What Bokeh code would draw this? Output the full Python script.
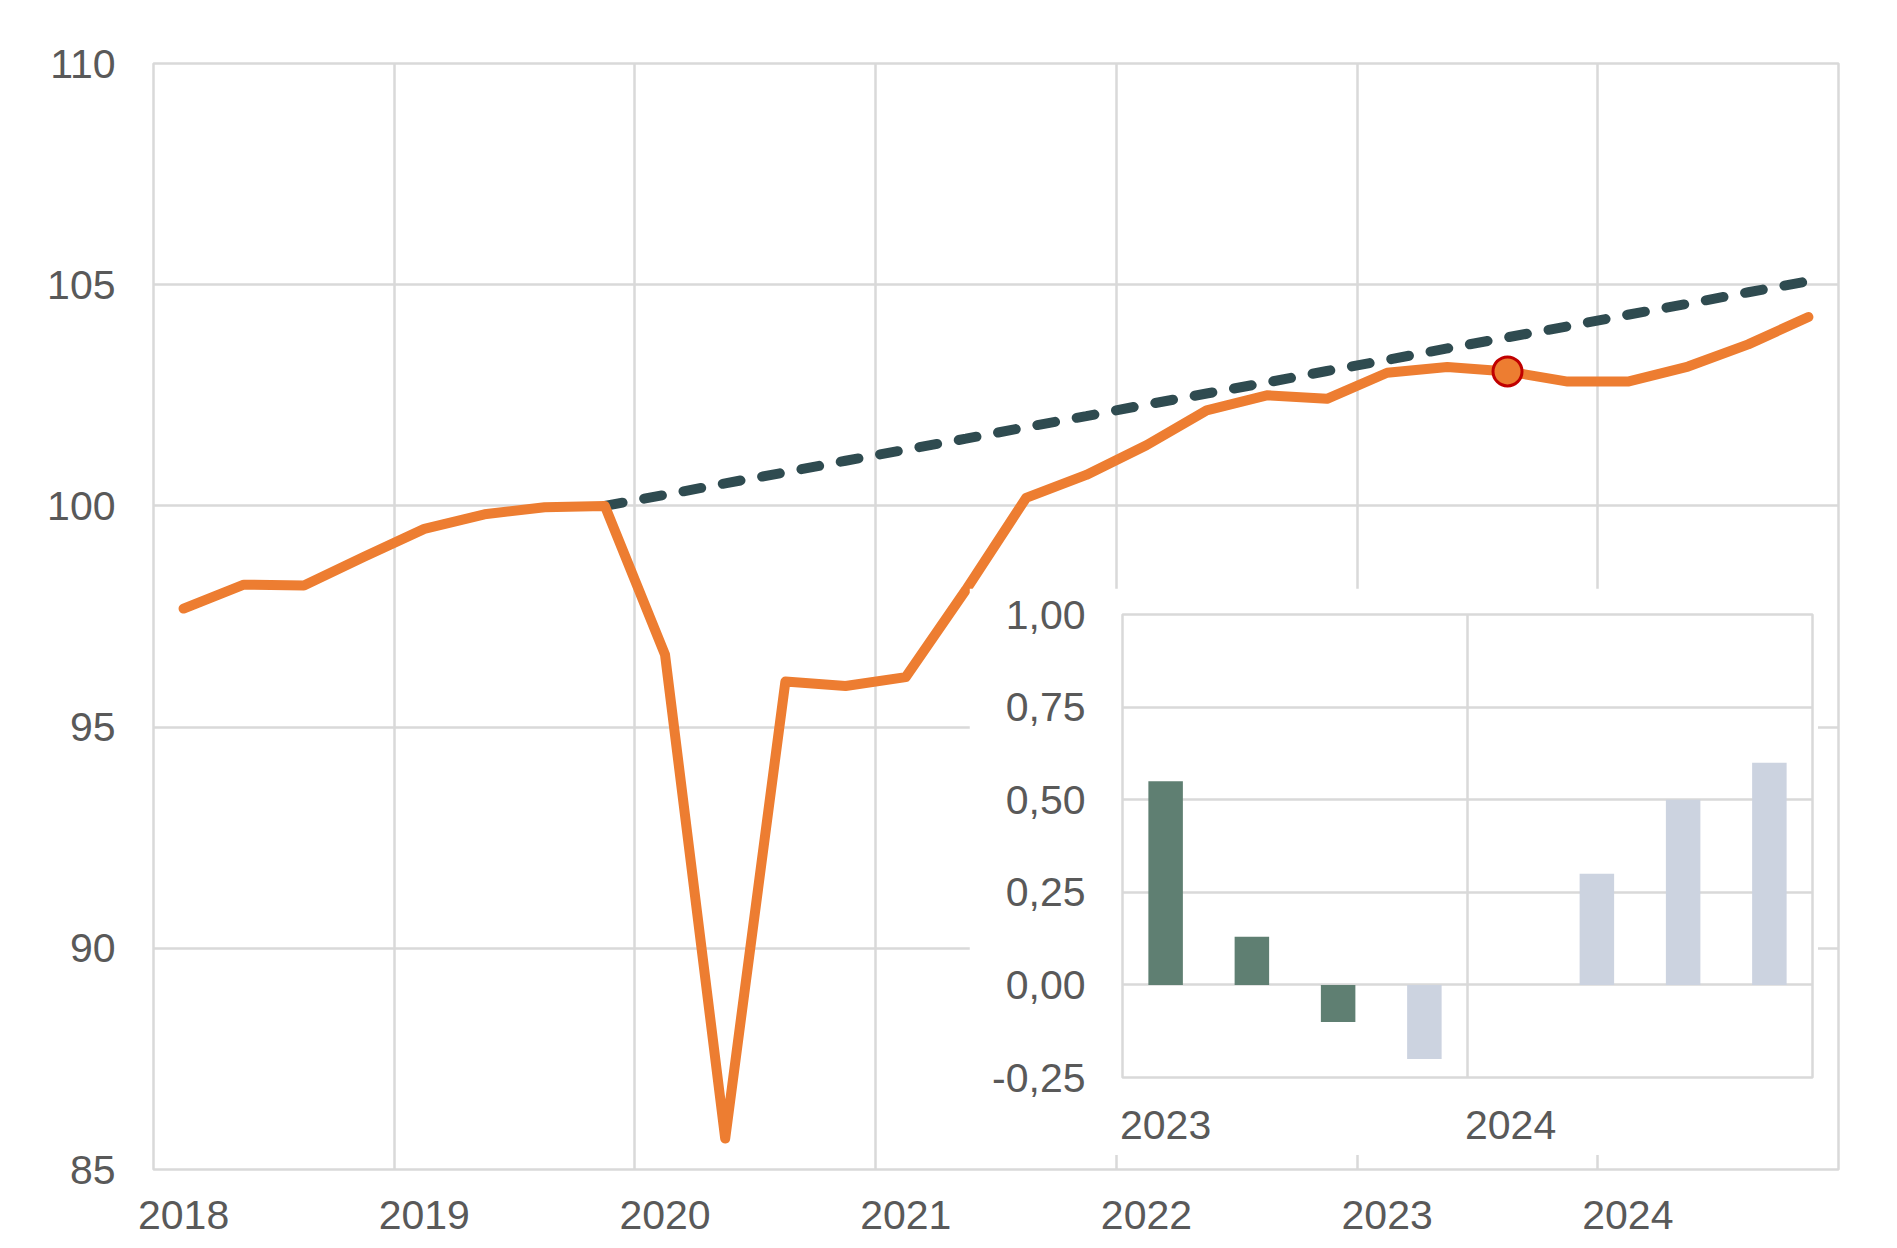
from bokeh.plotting import figure
from bokeh.models import FixedTicker, CustomJSTickFormatter, Range1d, ColumnDataSource
from bokeh.layouts import column
from bokeh.embed import file_html
from bokeh.resources import INLINE

# ---------------- data ----------------
years = [2018, 2019, 2020, 2021, 2022, 2023, 2024]
periods = [f"{y}K{q}" for y in years for q in (1, 2, 3, 4)]

gdp_index = [97.68, 98.22, 98.20, 98.85, 99.48, 99.81, 99.97, 100.00,
             96.64, 85.70, 96.03, 95.93, 96.13, 98.10, 100.18, 100.70,
             101.37, 102.16, 102.50, 102.42, 103.01, 103.14, 103.04, 102.81,
             102.81, 103.15, 103.65, 104.27]

trend_periods = periods[7:]
trend_values = [100.00, 100.25, 100.51, 100.76, 101.02, 101.27, 101.52,
                101.78, 102.03, 102.29, 102.54, 102.79, 103.05, 103.30,
                103.56, 103.81, 104.06, 104.32, 104.57, 104.83, 105.08]

highlight_period = "2023K3"

y_ticks = [85, 90, 95, 100, 105, 110]

inset_years = [2023, 2024]
inset_periods = [f"{y}K{q}" for y in inset_years for q in (1, 2, 3, 4)]
inset_values = [0.55, 0.13, -0.10, -0.20, 0.00, 0.30, 0.50, 0.60]
inset_kind = ["actual", "actual", "actual", "projection",
              "projection", "projection", "projection", "projection"]
inset_ticks = [-0.25, 0.0, 0.25, 0.50, 0.75, 1.00]

# ---------------- styles ----------------
ORANGE = "#ED7D31"
TREND = "#2F4B50"
GRID = "#D9D9D9"
TEXT = "#595959"
FONT = "Liberation Sans"
FS = "41px"
KIND_COLORS = {"actual": "#5F7F72", "projection": "#CCD3E0"}
GW = 2.5


def pos(period):
    y, q = period.split("K")
    return int(y) + (int(q) - 1) / 4 + 0.125


# ---------------- main chart ----------------
MAIN_H = 1240
p = figure(width=1888, height=MAIN_H, output_backend="svg", toolbar_location=None,
           x_range=Range1d(years[0], years[-1] + 1), y_range=Range1d(85, 110),
           min_border_left=153, min_border_right=50, min_border_top=63,
           min_border_bottom=71)
p.background_fill_color = "white"
p.border_fill_color = "white"
p.outline_line_color = GRID
p.outline_line_width = GW

src = ColumnDataSource(dict(x=[pos(s) for s in periods], y=gdp_index))
tsrc = ColumnDataSource(dict(x=[pos(s) for s in trend_periods], y=trend_values))
hi = periods.index(highlight_period)

p.line("x", "y", source=tsrc, line_color=TREND, line_width=10,
       line_dash="18 22", line_cap="round")
p.line("x", "y", source=src, line_color=ORANGE, line_width=10,
       line_join="round", line_cap="round")
p.scatter([pos(highlight_period)], [gdp_index[hi]], size=29, marker="circle",
          fill_color=ORANGE, line_color="#C00000", line_width=3)

p.xaxis.ticker = FixedTicker(ticks=[y + 0.125 for y in years])
p.xaxis.formatter = CustomJSTickFormatter(code="return Math.floor(tick).toString();")
p.xgrid.ticker = FixedTicker(ticks=years + [years[-1] + 1])
p.yaxis.ticker = FixedTicker(ticks=y_ticks)
p.ygrid.ticker = FixedTicker(ticks=y_ticks)

for ax in (p.xaxis[0], p.yaxis[0]):
    ax.axis_line_color = None
    ax.major_tick_line_color = None
    ax.minor_tick_line_color = None
    ax.major_label_text_font = FONT
    ax.major_label_text_font_size = FS
    ax.major_label_text_color = TEXT
p.xaxis.major_label_standoff = 25
p.yaxis.major_label_standoff = 32
p.grid.grid_line_color = GRID
p.grid.grid_line_width = GW

# ---------------- inset chart ----------------
IN_LEFT, IN_TOP = 139, 26
IN_AXIS_W = 152  # width the inset's y axis actually takes
q = figure(frame_width=690, frame_height=463, output_backend="svg", toolbar_location=None,
           x_range=Range1d(inset_years[0], inset_years[-1] + 1),
           y_range=Range1d(-0.25, 1.0),
           min_border_left=IN_LEFT, min_border_right=20, min_border_top=IN_TOP,
           min_border_bottom=78)
q.background_fill_color = "white"
q.border_fill_color = "white"
q.outline_line_color = GRID
q.outline_line_width = GW

bsrc = ColumnDataSource(dict(x=[pos(s) for s in inset_periods], top=inset_values,
                             color=[KIND_COLORS[k] for k in inset_kind]))
q.vbar(x="x", top="top", bottom=0, width=0.1, source=bsrc,
       fill_color="color", line_color=None)

q.xaxis.ticker = FixedTicker(ticks=[y + 0.125 for y in inset_years])
q.xaxis.formatter = CustomJSTickFormatter(code="return Math.floor(tick).toString();")
q.xgrid.ticker = FixedTicker(ticks=inset_years + [inset_years[-1] + 1])
q.yaxis.ticker = FixedTicker(ticks=inset_ticks)
q.yaxis.formatter = CustomJSTickFormatter(code="return tick.toFixed(2).replace('.', ',');")
q.ygrid.ticker = FixedTicker(ticks=inset_ticks)
for ax in (q.xaxis[0], q.yaxis[0]):
    ax.axis_line_color = None
    ax.major_tick_line_color = None
    ax.minor_tick_line_color = None
    ax.major_label_text_font = FONT
    ax.major_label_text_font_size = FS
    ax.major_label_text_color = TEXT
q.xaxis.major_label_standoff = 27
q.yaxis.major_label_standoff = 31
q.grid.grid_line_color = GRID
q.grid.grid_line_width = GW

# place the inset over the main chart (frame top-left at 1121, 614)
q.margin = (614 - IN_TOP - MAIN_H, 0, 0, 1121 - IN_AXIS_W)

layout = column(p, q, spacing=0)
open("out.html", "w").write(file_html(layout, INLINE))
